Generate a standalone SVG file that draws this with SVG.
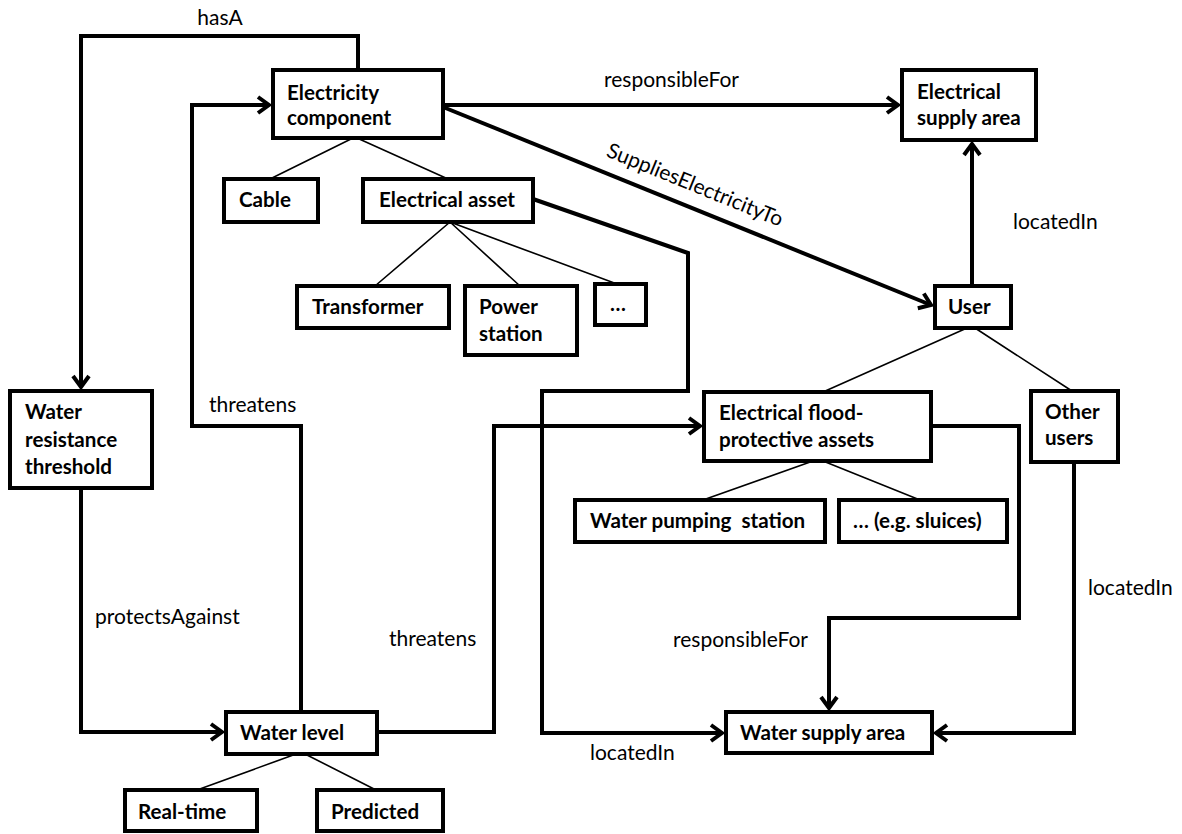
<svg xmlns="http://www.w3.org/2000/svg" width="1182" height="834" viewBox="0 0 1182 834">
  <style>
    .box { fill: #fff; stroke: #000; stroke-width: 4; }
    .node { font-family: Lato, "Liberation Sans", sans-serif; font-weight: bold; font-size: 20.6px; fill: #000; }
    .rel { fill: none; stroke: #000; stroke-width: 4; stroke-linejoin: miter; }
    .tree { fill: none; stroke: #000; stroke-width: 1.6; }
    .lbl { font-family: Lato, "Liberation Sans", sans-serif; font-size: 21px; fill: #000; }
  </style>
  <defs>
    <marker id="arrow" markerUnits="userSpaceOnUse" viewBox="0 0 16 20" markerWidth="16" markerHeight="20" refX="13" refY="10" orient="auto">
      <path d="M2,2 L13,10 L2,18" fill="none" stroke="#000" stroke-width="4"/>
    </marker>
  </defs>
  <rect width="1182" height="834" fill="#fff"/>

  <!-- relationship connectors -->
  <g id="connectors">
    <path class="rel" d="M358,70 V36 H81 V387" marker-end="url(#arrow)"/>
    <path class="rel" d="M301,712 V426 H192 V105 H269" marker-end="url(#arrow)"/>
    <path class="rel" d="M443,105 H898" marker-end="url(#arrow)"/>
    <path class="rel" d="M443,107 L931,305" marker-end="url(#arrow)"/>
    <path class="rel" d="M972,286 V144" marker-end="url(#arrow)"/>
    <path class="rel" d="M533,199 L688,253 V391 H542 V733 H722" marker-end="url(#arrow)"/>
    <path class="rel" d="M81,488 V732 H222" marker-end="url(#arrow)"/>
    <path class="rel" d="M377,732 H494 V426 H700" marker-end="url(#arrow)"/>
    <path class="rel" d="M931,426 H1019 V618 H829 V708" marker-end="url(#arrow)"/>
    <path class="rel" d="M1074,462 V733 H936" marker-end="url(#arrow)"/>

    <!-- subclass lines -->
    <path class="tree" d="M353,138 L270,179 M357,138 L448,179"/>
    <path class="tree" d="M450,222 L375,286 M450,222 L520,286 M450,222 L617,284"/>
    <path class="tree" d="M967,328 L823,392 M975,328 L1072,391"/>
    <path class="tree" d="M813,461 L703,500 M823,461 L920,500"/>
    <path class="tree" d="M296,754 L197,790 M305,754 L376,790"/>

    <!-- relationship labels -->
    <text class="lbl" x="220" y="25" text-anchor="middle">hasA</text>
    <text class="lbl" x="604" y="87">responsibleFor</text>
    <text class="lbl" transform="translate(695,185) rotate(22.1)" x="0" y="7" text-anchor="middle">SuppliesElectricityTo</text>
    <text class="lbl" x="1013" y="229">locatedIn</text>
    <text class="lbl" x="209" y="412">threatens</text>
    <text class="lbl" x="95" y="624">protectsAgainst</text>
    <text class="lbl" x="389" y="646">threatens</text>
    <text class="lbl" x="673" y="647">responsibleFor</text>
    <text class="lbl" x="590" y="760">locatedIn</text>
    <text class="lbl" x="1088" y="595">locatedIn</text>
  </g>

  <g id="electricity-component">
    <rect class="box" x="273" y="70" width="170" height="68"/>
    <text class="node" x="287" y="100">Electricity</text>
    <text class="node" x="287" y="125">component</text>
  </g>
  <g id="electrical-supply-area">
    <rect class="box" x="902" y="70" width="134" height="70"/>
    <text class="node" x="917" y="99">Electrical</text>
    <text class="node" x="917" y="125">supply area</text>
  </g>
  <g id="cable">
    <rect class="box" x="224" y="179" width="94" height="43"/>
    <text class="node" x="239" y="207">Cable</text>
  </g>
  <g id="electrical-asset">
    <rect class="box" x="363" y="179" width="170" height="43"/>
    <text class="node" x="379" y="207">Electrical asset</text>
  </g>
  <g id="transformer">
    <rect class="box" x="297" y="286" width="152" height="42"/>
    <text class="node" x="312" y="314">Transformer</text>
  </g>
  <g id="power-station">
    <rect class="box" x="465" y="286" width="112" height="69"/>
    <text class="node" x="479" y="314">Power</text>
    <text class="node" x="479" y="341">station</text>
  </g>
  <g id="other-assets">
    <rect class="box" x="595" y="284" width="51" height="41"/>
    <text class="node" x="610" y="311">…</text>
  </g>
  <g id="user">
    <rect class="box" x="935" y="286" width="76" height="42"/>
    <text class="node" x="948" y="314">User</text>
  </g>
  <g id="water-resistance-threshold">
    <rect class="box" x="10" y="391" width="142" height="97"/>
    <text class="node" x="25" y="419">Water</text>
    <text class="node" x="25" y="447">resistance</text>
    <text class="node" x="25" y="474">threshold</text>
  </g>
  <g id="flood-protective-assets">
    <rect class="box" x="704" y="392" width="227" height="69"/>
    <text class="node" x="719" y="420">Electrical flood-</text>
    <text class="node" x="719" y="447">protective assets</text>
  </g>
  <g id="other-users">
    <rect class="box" x="1031" y="391" width="87" height="71"/>
    <text class="node" x="1045" y="419">Other</text>
    <text class="node" x="1045" y="445">users</text>
  </g>
  <g id="water-pumping-station">
    <rect class="box" x="575" y="500" width="250" height="42"/>
    <text class="node" x="590" y="528" style="white-space:pre">Water pumping  station</text>
  </g>
  <g id="sluices">
    <rect class="box" x="839" y="500" width="168" height="42"/>
    <text class="node" x="853" y="528">… (e.g. sluices)</text>
  </g>
  <g id="water-level">
    <rect class="box" x="226" y="712" width="151" height="42"/>
    <text class="node" x="240" y="740">Water level</text>
  </g>
  <g id="water-supply-area">
    <rect class="box" x="726" y="712" width="206" height="41"/>
    <text class="node" x="740" y="740">Water supply area</text>
  </g>
  <g id="real-time">
    <rect class="box" x="125" y="790" width="132" height="41"/>
    <text class="node" x="138" y="819">Real-time</text>
  </g>
  <g id="predicted">
    <rect class="box" x="317" y="790" width="126" height="41"/>
    <text class="node" x="331" y="819">Predicted</text>
  </g>
</svg>
